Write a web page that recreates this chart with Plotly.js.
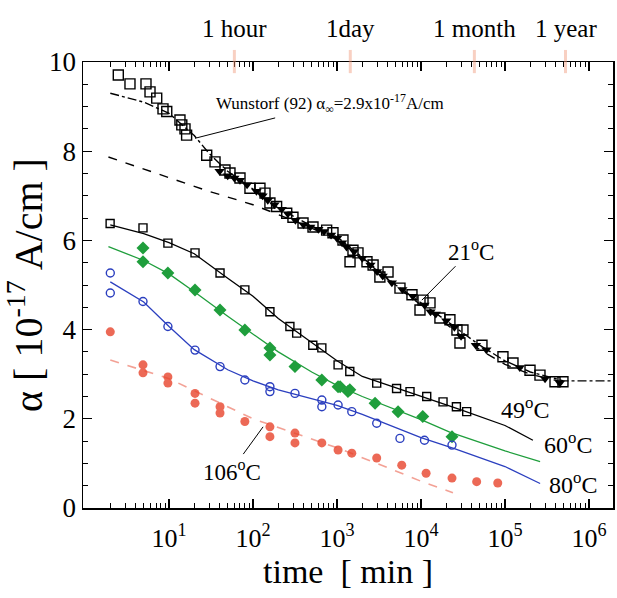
<!DOCTYPE html>
<html><head><meta charset="utf-8">
<script src="https://cdn.plot.ly/plotly-3.0.1.min.js"></script>
<style>html,body{margin:0;padding:0;background:#fff}</style>
</head><body><div id="chart" style="width:617px;height:598px"></div>
<script>
// ---- data (time in minutes, alpha in 1e-17 A/cm) ----
const t21_open = [2.49,3.43,5.32,5.94,7.14,8.48,9.4,13.5,14.2,15.5,16.2,28.1,35.3,46.4,53.2,70,92,121,139,159,191,252,299,394,518,753,896,1178,1550,1429,1778,2275,2690,3240,4050,5620,7810,10570,9730,12800,16800,22100,26800,31600,29100,53200,94600,124500,198600,261000,394000,490000];
const a21_open = [9.71,9.51,9.51,9.33,9.19,8.95,8.89,8.70,8.59,8.50,8.36,7.91,7.76,7.58,7.51,7.40,7.17,7.17,7.06,6.84,6.76,6.61,6.52,6.39,6.30,6.23,6.17,6.01,5.78,5.52,5.72,5.52,5.45,5.18,5.29,4.93,4.78,4.66,4.44,4.60,4.26,4.22,3.99,3.99,3.70,3.65,3.39,3.25,3.09,2.98,2.83,2.83];
const t21_fill = [40,50,60,70,85,110,130,150,180,220,260,320,400,480,600,700,850,1000,1150,1300,1600,2000,2500,3000,3500,4500,6000,8000,11000,13000,15000,20000,25000,30000,45000,60000,150000,300000,450000];
const a21_fill = [7.55,7.45,7.4,7.35,7.25,7.1,7.0,6.9,6.8,6.7,6.6,6.45,6.35,6.3,6.25,6.2,6.12,6.05,5.95,5.85,5.75,5.6,5.45,5.3,5.2,5.05,4.9,4.75,4.55,4.4,4.35,4.2,4.05,3.85,3.65,3.55,3.15,2.9,2.8];
const t21_fitA = [2,5,10,20,30,50,100,200,500,1000,2000,5000,10000,20000,50000,100000,200000,500000,1000000,1900000];
const a21_fitA = [9.3,9.1,8.85,8.35,7.95,7.55,7.15,6.72,6.32,6.08,5.62,5.0,4.6,4.2,3.65,3.3,3.05,2.85,2.85,2.85];
const t21_fitB = [1.9,10,30,100,300,1000,2000,5000,10000,20000,50000,100000,200000,500000];
const a21_fitB = [7.87,7.41,7.1,6.8,6.45,6.03,5.6,4.98,4.56,4.12,3.55,3.22,3.0,2.82];

const t49 = [1.99,4.9,9.7,20.4,40.5,80,159,275,331,515,660,1030,1420,2970,5120,7400,11700,18300,26400,35000];
const a49 = [6.38,6.28,5.94,5.72,5.27,4.89,4.40,4.07,3.92,3.65,3.59,3.21,3.06,2.80,2.68,2.61,2.50,2.38,2.27,2.16];
const t49_fit = [2,5,10,20,50,100,200,500,1000,2000,5000,10000,30000,100000,215000];
const a49_fit = [6.35,6.15,5.95,5.7,5.15,4.75,4.25,3.7,3.3,2.95,2.7,2.5,2.2,1.85,1.52];

const t60 = [4.9,4.9,9.7,20.4,40.5,80,159,159,316,660,1030,1420,1090,1350,2840,5330,10500,23400];
const a60 = [5.83,5.52,5.27,4.89,4.44,3.99,3.59,3.43,3.17,2.87,2.72,2.65,2.72,2.61,2.35,2.16,2.05,1.60];
const t60_fit = [1.9,5,10,20,50,100,200,500,1000,2000,5000,10000,22000,100000,262000];
const a60_fit = [5.86,5.55,5.25,4.85,4.3,3.9,3.5,3.05,2.75,2.5,2.2,1.98,1.7,1.28,1.04];

const t80 = [2,2,4.9,9.7,20.4,40.5,80,159,159,316,660,660,1030,1500,2970,5620,11000,23400];
const a80 = [5.27,4.82,4.63,4.07,3.54,3.17,2.87,2.72,2.61,2.57,2.42,2.27,2.31,2.16,1.90,1.56,1.52,1.41];
const t80_fit = [2,5,10,20,50,100,200,500,1000,2000,5000,10000,25000,100000,262000];
const a80_fit = [5.07,4.62,4.07,3.55,3.1,2.85,2.65,2.45,2.3,2.1,1.8,1.58,1.33,0.93,0.55];

const t106 = [2,4.9,4.9,9.7,9.7,20.4,20.4,40.5,40.5,80,159,159,316,316,660,1030,1500,2970,5900,11500,23400,46000,82000];
const a106 = [3.95,3.21,3.03,2.94,2.80,2.57,2.35,2.27,2.13,1.94,1.82,1.60,1.68,1.46,1.46,1.30,1.23,1.12,0.96,0.78,0.67,0.59,0.56];
const t106_fit = [2,10,100,1000,3000,10000,24000];
const a106_fit = [3.32,2.9,2.0,1.35,1.0,0.6,0.34];

const xTickVals = [10,100,1000,10000,100000,1000000];
const xTickText = ['10<sup>1</sup>','10<sup>2</sup>','10<sup>3</sup>','10<sup>4</sup>','10<sup>5</sup>','10<sup>6</sup>'];
const timeMarks = [60,1440,43200,525600];
const timeMarkText = ['1 hour','1day','1 month','1 year'];

// ---- styling ----
const SERIF = '"Liberation Serif", "Times New Roman", serif';
const GREEN = '#1f9e3c', BLUE = '#2b3fbf', RED = '#e8442c';

const minorVals = [];
for (let d = 0; d <= 6; d++) for (let k = 2; k <= 9; k++) minorVals.push(k * Math.pow(10, d));

const traces = [
  {x:t21_fitB, y:a21_fitB, mode:'lines', line:{color:'#000', width:1.4, dash:'dash'}},
  {x:t21_fitA, y:a21_fitA, mode:'lines', line:{color:'#000', width:1.4, dash:'dashdot'}},
  {x:t21_open, y:a21_open, mode:'markers', marker:{symbol:'square-open', size:10, color:'#000', line:{width:1.4}}},
  {x:t21_fill, y:a21_fill, mode:'markers', marker:{symbol:'triangle-down', size:9, color:'#000'}},
  {x:t49_fit, y:a49_fit, mode:'lines', line:{color:'#000', width:1.3}},
  {x:t49, y:a49, mode:'markers', marker:{symbol:'square-open', size:8, color:'#000', line:{width:1.4}}},
  {x:t60_fit, y:a60_fit, mode:'lines', line:{color:GREEN, width:1.3}},
  {x:t60, y:a60, mode:'markers', marker:{symbol:'diamond', size:10, color:GREEN}},
  {x:t80_fit, y:a80_fit, mode:'lines', line:{color:BLUE, width:1.3}},
  {x:t80, y:a80, mode:'markers', marker:{symbol:'circle-open', size:8, color:BLUE, line:{width:1.4}}},
  {x:t106_fit, y:a106_fit, mode:'lines', line:{color:RED, width:1.6, dash:'dash'}, opacity:0.5},
  {x:t106, y:a106, mode:'markers', marker:{symbol:'circle', size:9, color:RED}, opacity:0.8}
];

const L = Math.log10;
const annotations = [
  {x:4.01, y:4.66, ax:4.60, ay:5.78, axref:'x', ayref:'y', text:'21<sup>o</sup>C', showarrow:true, arrowhead:0, arrowwidth:1, arrowcolor:'#000', font:{family:SERIF,size:23,color:'#000'}},
  {x:2.12, y:1.82, ax:1.746, ay:0.85, axref:'x', ayref:'y', text:'106<sup>o</sup>C', showarrow:true, arrowhead:0, arrowwidth:1, arrowcolor:'#000', font:{family:SERIF,size:23,color:'#000'}},
  {x:1.31, y:8.29, ax:2.92, ay:9.06, axref:'x', ayref:'y', text:'Wunstorf (92) α<sub>∞</sub>=2.9x10<sup>-17</sup>A/cm', showarrow:true, arrowhead:0, arrowwidth:1, arrowcolor:'#000', font:{family:SERIF,size:17,color:'#000'}},
  {x:5.24, y:2.24, text:'49<sup>o</sup>C', showarrow:false, font:{family:SERIF,size:24,color:'#000'}},
  {x:5.75, y:1.46, text:'60<sup>o</sup>C', showarrow:false, font:{family:SERIF,size:24,color:'#000'}},
  {x:5.81, y:0.56, text:'80<sup>o</sup>C', showarrow:false, font:{family:SERIF,size:24,color:'#000'}}
];
const shapes = [];
timeMarks.forEach((t, i) => {
  annotations.push({x:L(t), y:1.076, yref:'paper', yanchor:'middle', text:timeMarkText[i], showarrow:false, font:{family:SERIF,size:25,color:'#000'}});
  shapes.push({type:'line', xref:'x', yref:'paper', x0:t, x1:t, y0:0.975, y1:1.027, line:{color:'rgba(240,150,120,0.45)', width:3}});
});

const layout = {
  width:617, height:598,
  margin:{l:83, r:4, t:62, b:90},
  paper_bgcolor:'#fff', plot_bgcolor:'#fff',
  showlegend:false,
  font:{family:SERIF, color:'#000'},
  xaxis:{
    type:'log', range:[-0.024, 6.286],
    tickmode:'array', tickvals:xTickVals, ticktext:xTickText,
    ticks:'inside', ticklen:9, tickwidth:1.2, tickcolor:'#000',
    minor:{tickmode:'array', tickvals:minorVals, ticks:'inside', ticklen:5, tickwidth:1, tickcolor:'#000'},
    showline:true, linecolor:'#000', linewidth:1.5, mirror:'allticks',
    showgrid:false, zeroline:false,
    ticklabelstandoff:6,
    tickfont:{family:SERIF, size:26, color:'#000'},
    title:{text:'time  [ min ]', font:{family:SERIF, size:34, color:'#000'}, standoff:6}
  },
  yaxis:{
    range:[0,10], dtick:2, tick0:0,
    ticks:'inside', ticklen:9, tickwidth:1.2, tickcolor:'#000',
    minor:{dtick:0.5, ticks:'inside', ticklen:5, tickwidth:1, tickcolor:'#000'},
    showline:true, linecolor:'#000', linewidth:1.5, mirror:'allticks',
    showgrid:false, zeroline:false,
    tickfont:{family:SERIF, size:27, color:'#000'},
    title:{text:'α [ 10<sup>-17</sup> A/cm ]', font:{family:SERIF, size:40, color:'#000'}, standoff:4}
  },
  annotations:annotations,
  shapes:shapes
};

Plotly.newPlot('chart', traces, layout, {staticPlot:true, displayModeBar:false});
</script></body></html>
